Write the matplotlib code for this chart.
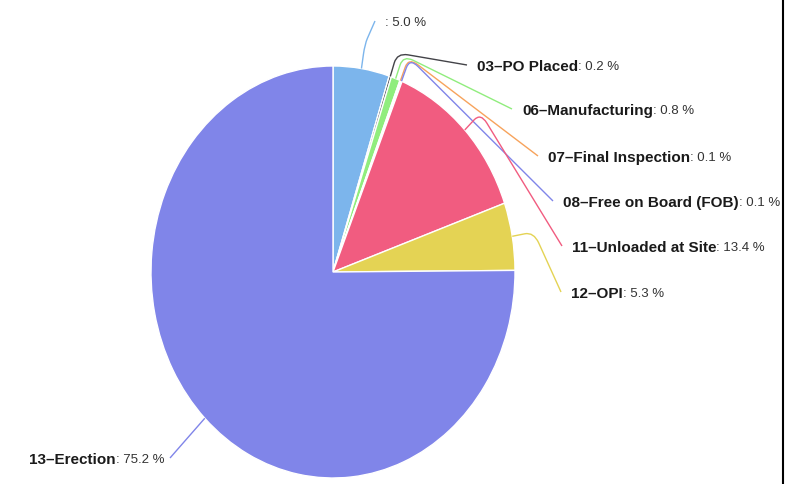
import numpy as np
import matplotlib.pyplot as plt
from matplotlib.path import Path
from matplotlib.patches import PathPatch
from matplotlib.lines import Line2D

# slice data
categories = ['', '03\u2013PO Placed', '06\u2013Manufacturing', '07\u2013Final Inspection',
              '08\u2013Free on Board (FOB)', '11\u2013Unloaded at Site', '12\u2013OPI',
              '13\u2013Erection']
shares = [5.0, 0.2, 0.8, 0.1, 0.1, 13.4, 5.3, 75.2]
colors = ['#7cb5ec', '#434348', '#90ed7d', '#f7a35c', '#8085e9', '#f15c80',
          '#e4d354', '#8085e9']

# where each connector ends (pixels), labels sit next to it
label_end_px = [(375, 21), (467, 65), (512, 109), (538, 156), (553, 201),
                (562, 246), (561, 292), (170, 458)]

W, H = 794, 484
CX, CY, RX, RY = 333, 272, 182, 206   # pie centre / radii in pixels


def to_data(px, py):
    return (px - CX) / RX, (CY - py) / RY


plt.rcParams['font.family'] = ['Liberation Sans', 'DejaVu Sans']

fig = plt.figure(figsize=(W / 100, H / 100), dpi=100)
ax = fig.add_axes([0, 0, 1, 1])
ax.pie(shares, colors=colors, startangle=90, counterclock=False,
       wedgeprops=dict(edgecolor='white', linewidth=1))
ax.set_aspect('auto')
ax.set_xlim(to_data(0, 0)[0], to_data(W, 0)[0])
ax.set_ylim(to_data(0, H)[1], to_data(0, 0)[1])
ax.axis('off')

total = sum(shares)
cum = np.cumsum([0] + shares[:-1])
for name, val, c, start, (ex, ey) in zip(categories, shares, colors, cum, label_end_px):
    theta = 2 * np.pi * (start + val / 2) / total
    p0 = np.array([np.sin(theta), np.cos(theta)])
    p1 = 1.12 * p0
    p2 = np.array(to_data(ex, ey))
    pa = 1.07 * p0
    pb = p1 + (p2 - p1) * min(0.25, 0.06 / np.linalg.norm(p2 - p1))
    path = Path([p0, pa, p1, pb, p2],
                [Path.MOVETO, Path.LINETO, Path.CURVE3, Path.CURVE3, Path.LINETO])
    ax.add_patch(PathPatch(path, fc='none', ec=c, lw=1, clip_on=False))

    value = ': %.1f %%' % val
    if ex > CX:
        tx, ty = to_data(ex + 10, ey + 2)
        if name:
            t = ax.text(tx, ty, name, fontsize=11, fontweight='bold',
                        color='#1a1a1a', ha='left', va='center')
            ax.annotate(value, xy=(1, 0.5), xycoords=t, fontsize=9.5,
                        color='#333333', ha='left', va='center')
        else:
            ax.text(tx, ty, value, fontsize=9.5, color='#333333',
                    ha='left', va='center')
    else:
        tx, ty = to_data(ex - 6, ey + 2)
        t = ax.text(tx, ty, value, fontsize=9.5, color='#333333',
                    ha='right', va='center')
        ax.annotate(name, xy=(0, 0.5), xycoords=t, fontsize=11,
                    fontweight='bold', color='#1a1a1a', ha='right', va='center')

# right border of the chart area
fig.add_artist(Line2D([783 / W, 783 / W], [0, 1], color='black', lw=1.5))

fig.savefig('out.png', dpi=100)
plt.close()
